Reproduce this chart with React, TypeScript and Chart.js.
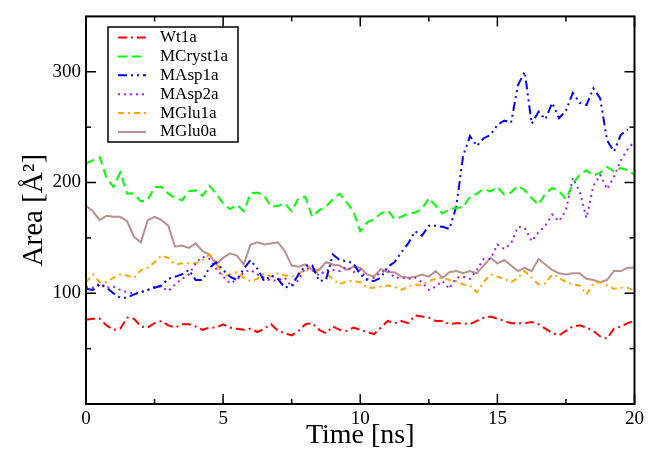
import React, { useEffect, useRef } from 'react';
import { Chart, registerables } from 'chart.js';

Chart.register(...registerables);

// Time grid (ns), 0.25 ns spacing
const times: number[] = Array.from({ length: 81 }, (_, i) => i * 0.25);

const wt1a = [
  76, 77, 77, 71, 67, 68, 78, 77, 70, 69, 73, 75, 71, 69, 72, 72, 70, 67, 69, 69,
  72, 69, 68, 67, 68, 65, 68, 72, 66, 64, 62, 66, 72, 73, 67, 64, 70, 67, 66, 69,
  67, 65, 63, 69, 75, 73, 75, 73, 80, 79, 78, 75, 75, 72, 73, 73, 72, 75, 78, 79,
  77, 75, 73, 73, 73, 74, 72, 68, 64, 62, 66, 70, 71, 69, 66, 61, 59, 68, 70, 73, 75,
];

const mCryst1a = [
  217, 220, 223, 204, 196, 209, 190, 190, 183, 184, 196, 196, 190, 186, 184, 192, 193, 188, 197, 190,
  181, 176, 180, 174, 190, 191, 188, 178, 179, 181, 174, 186, 187, 169, 175, 178, 185, 190, 182, 174,
  156, 164, 167, 172, 175, 167, 169, 172, 173, 176, 186, 179, 172, 176, 177, 178, 187, 190, 194, 192,
  196, 189, 191, 197, 193, 186, 180, 190, 195, 192, 185, 199, 207, 211, 206, 209, 214, 210, 213, 211, 207,
];

const mAsp1a: (number | null)[] = [
  104, 103, 108, 105, 100, 96, 96, 99, 101, 103, 105, 107, 113, 115, 117, 121, 112, 112, 123, 128,
  121, 115, 112, 122, 130, 122, 111, 116, 113, 105, 107, 117, 125, 125, 111, 112, 135, 130, 129, 127,
  117, 112, 111, 114, 124, 128, 137, 145, 156, 152, 161, 161, 160, 158, 178, 224, 242, 233, 240, 243,
  252, 256, 254, 288, 300, 253, 264, 257, 272, 258, 265, 281, 272, 270, 285, 276, 238, 228, 243, 248, null,
];

const mAsp2a = [
  106, 105, 109, 105, 106, 103, 101, 100, 101, 103, 106, 106, 102, 108, 113, 117, 127, 133, 131, 122,
  115, 109, 112, 119, 121, 117, 114, 111, 112, 114, 106, 112, 123, 121, 116, 121, 121, 120, 124, 119,
  121, 113, 114, 119, 121, 114, 114, 113, 114, 110, 103, 106, 111, 104, 114, 115, 113, 121, 131, 131,
  144, 140, 145, 160, 159, 147, 155, 161, 171, 165, 175, 204, 192, 168, 197, 207, 194, 205, 220, 230, 237,
];

const mGlu1a = [
  110, 117, 110, 110, 114, 117, 116, 114, 121, 123, 128, 134, 132, 126, 127, 127, 127, 130, 135, 128,
  115, 117, 119, 114, 111, 113, 118, 115, 118, 116, 115, 118, 121, 120, 119, 118, 113, 108, 111, 111,
  110, 105, 105, 106, 107, 106, 103, 106, 108, 107, 111, 113, 114, 112, 111, 108, 107, 101, 110, 117,
  115, 113, 110, 114, 120, 114, 108, 109, 117, 114, 110, 108, 107, 99, 109, 110, 107, 104, 105, 105, 102,
];

const mGlu0a = [
  179, 174, 166, 170, 169, 169, 165, 151, 146, 166, 169, 166, 161, 142, 143, 141, 145, 138, 135, 126,
  132, 136, 134, 126, 144, 146, 144, 145, 146, 138, 125, 124, 126, 121, 121, 128, 126, 125, 121, 124,
  123, 117, 115, 122, 119, 119, 115, 114, 115, 117, 115, 120, 114, 119, 120, 118, 120, 118, 125, 132,
  127, 130, 125, 120, 123, 120, 131, 126, 121, 118, 117, 118, 118, 113, 112, 110, 112, 120, 120, 123, 123,
];

const seriesLabels = ['Wt1a', 'MCryst1a', 'MAsp1a', 'MAsp2a', 'MGlu1a', 'MGlu0a'];
const seriesValues = [wt1a, mCryst1a, mAsp1a, mAsp2a, mGlu1a, mGlu0a];
const seriesColors = ['#ff0000', '#00ff00', '#0000ff', '#a020f0', '#ffa500', '#bc8f8f'];
const seriesDashes = [[9, 4, 2, 4], [9, 5], [9, 4, 2, 4, 2, 4], [2, 4], [6, 4, 2, 4], []];

const xMajorTicks = [0, 5, 10, 15, 20];
const xMinorTicks = [2.5, 7.5, 12.5, 17.5];
const yMajorTicks = [100, 200, 300];
const yMinorTicks = [50, 150, 250];

const SERIF = "'Liberation Serif', 'Times New Roman', serif";

const framePlugin = {
  id: 'frameTicks',
  afterDraw(chart: any) {
    const { ctx, chartArea } = chart;
    const { left, right, top, bottom } = chartArea;
    const xs = chart.scales.x;
    const ys = chart.scales.y;
    ctx.save();
    ctx.strokeStyle = '#000';
    ctx.lineWidth = 1.5;
    ctx.setLineDash([]);
    const tick = (x1: number, y1: number, x2: number, y2: number) => {
      ctx.beginPath();
      ctx.moveTo(x1, y1);
      ctx.lineTo(x2, y2);
      ctx.stroke();
    };
    xMajorTicks.forEach((v) => {
      const p = xs.getPixelForValue(v);
      tick(p, bottom, p, bottom - 10);
      tick(p, top, p, top + 10);
    });
    xMinorTicks.forEach((v) => {
      const p = xs.getPixelForValue(v);
      tick(p, bottom, p, bottom - 5);
      tick(p, top, p, top + 5);
    });
    yMajorTicks.forEach((v) => {
      const p = ys.getPixelForValue(v);
      tick(left, p, left + 10, p);
      tick(right, p, right - 10, p);
    });
    yMinorTicks.forEach((v) => {
      const p = ys.getPixelForValue(v);
      tick(left, p, left + 5, p);
      tick(right, p, right - 5, p);
    });
    ctx.lineWidth = 2;
    ctx.strokeRect(left, top, right - left, bottom - top);
    ctx.restore();
  },
};

const legendPlugin = {
  id: 'boxLegend',
  afterDraw(chart: any) {
    const { ctx } = chart;
    const bx = 108, by = 27, bw = 130, bh = 115;
    ctx.save();
    ctx.fillStyle = '#fff';
    ctx.fillRect(bx, by, bw, bh);
    ctx.strokeStyle = '#000';
    ctx.lineWidth = 1.5;
    ctx.setLineDash([]);
    ctx.strokeRect(bx, by, bw, bh);
    chart.data.datasets.forEach((ds: any, i: number) => {
      const yy = 37.5 + i * 18.9;
      ctx.beginPath();
      ctx.setLineDash(ds.borderDash || []);
      ctx.strokeStyle = ds.borderColor;
      ctx.lineWidth = 2;
      ctx.moveTo(118, yy);
      ctx.lineTo(146, yy);
      ctx.stroke();
      ctx.setLineDash([]);
      ctx.fillStyle = '#000';
      ctx.font = `17px ${SERIF}`;
      ctx.textBaseline = 'middle';
      ctx.textAlign = 'left';
      ctx.fillText(ds.label, 160, yy);
    });
    ctx.restore();
  },
};

export default function App() {
  const canvasRef = useRef<HTMLCanvasElement | null>(null);

  useEffect(() => {
    if (!canvasRef.current) return;
    const datasets = seriesLabels.map((label, i) => ({
      label,
      data: times.map((t, k) => ({ x: t, y: seriesValues[i][k] })),
      borderColor: seriesColors[i],
      backgroundColor: seriesColors[i],
      borderDash: seriesDashes[i],
      borderWidth: 2,
      pointRadius: 0,
      tension: 0,
      fill: false,
      spanGaps: false,
    }));
    const chart = new Chart(canvasRef.current, {
      type: 'line',
      data: { datasets },
      options: {
        animation: false,
        responsive: false,
        devicePixelRatio: 1,
        layout: { padding: { top: 13, right: 11, left: 0, bottom: 0 } },
        plugins: {
          legend: { display: false },
          tooltip: { enabled: false },
        },
        scales: {
          x: {
            type: 'linear',
            min: 0,
            max: 20,
            grid: { display: false, drawTicks: false },
            border: { display: false },
            afterBuildTicks: (scale: any) => {
              scale.ticks = xMajorTicks.map((v) => ({ value: v }));
            },
            afterFit: (scale: any) => {
              scale.height = 46;
            },
            ticks: {
              color: '#000',
              padding: 4,
              maxRotation: 0,
              font: { family: SERIF, size: 19 },
            },
            title: {
              display: true,
              text: 'Time [ns]',
              color: '#000',
              padding: 0,
              font: { family: SERIF, size: 28, lineHeight: 1 },
            },
          },
          y: {
            type: 'linear',
            min: 0,
            max: 350,
            grid: { display: false, drawTicks: false },
            border: { display: false },
            afterBuildTicks: (scale: any) => {
              scale.ticks = yMajorTicks.map((v) => ({ value: v }));
            },
            afterFit: (scale: any) => {
              scale.width = 86;
            },
            ticks: {
              color: '#000',
              padding: 5,
              font: { family: SERIF, size: 19 },
            },
            title: {
              display: true,
              text: 'Area [Å²]',
              color: '#000',
              padding: { top: 20, bottom: 0 },
              font: { family: SERIF, size: 29, lineHeight: 1 },
            },
          },
        },
      },
      plugins: [framePlugin, legendPlugin],
    });
    return () => chart.destroy();
  }, []);

  return (
    <div style={{ position: 'absolute', left: 0, top: 0, width: 648, height: 450, background: '#fff' }}>
      <canvas ref={canvasRef} width={648} height={450} />
    </div>
  );
}
